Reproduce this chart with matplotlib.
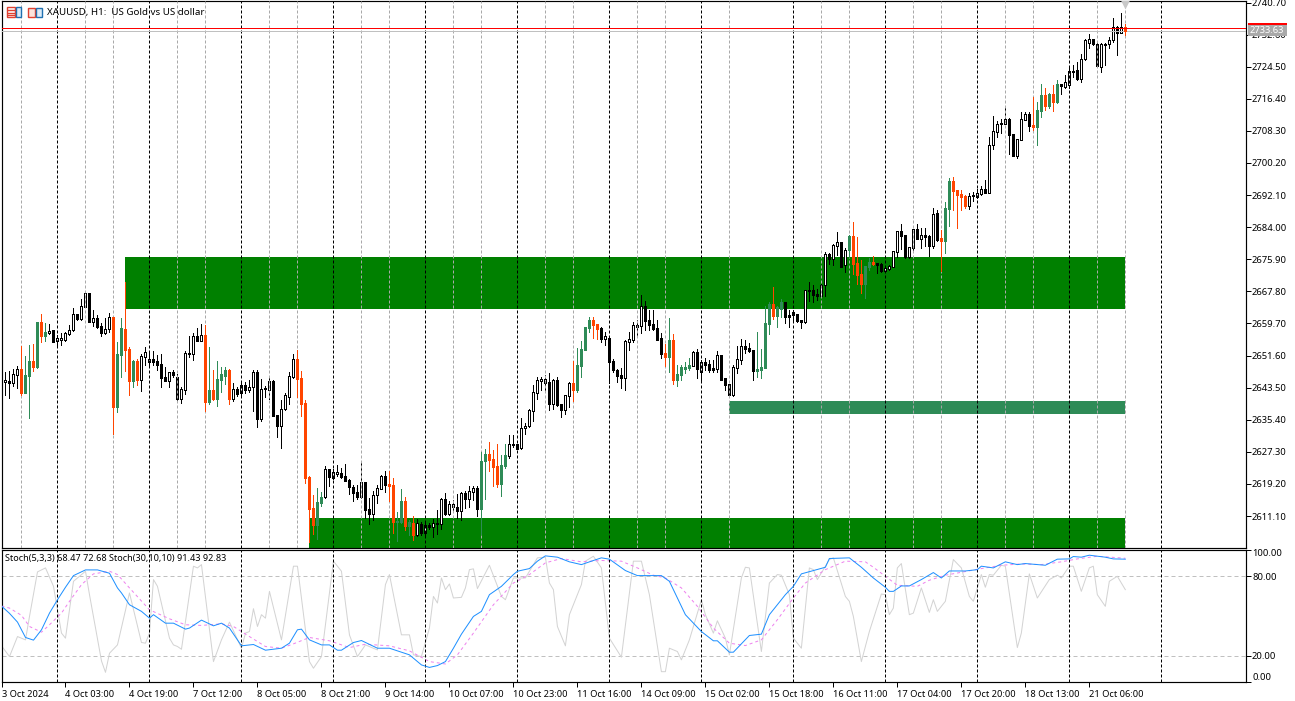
import numpy as np
import matplotlib
matplotlib.use('Agg')
import matplotlib.pyplot as plt
from matplotlib.patches import Rectangle

plt.rcParams['font.family'] = 'Noto Sans'

opens = [
    2656.0, 2645.0, 2645.2, 2644.8, 2646.8, 2648.1, 2642.2, 2646.5, 2650.2, 2648.7,
    2660.1, 2656.6, 2657.4, 2658.1, 2655.4, 2655.6, 2655.6, 2657.1, 2658.1, 2662.1,
    2660.9, 2663.9, 2667.3, 2660.2, 2661.0, 2659.0, 2657.3, 2658.2, 2661.3, 2638.6,
    2651.8, 2658.3, 2653.3, 2645.2, 2650.2, 2645.5, 2651.3, 2650.0, 2650.7, 2650.2,
    2649.5, 2646.2, 2645.2, 2647.5, 2646.2, 2640.7, 2642.9, 2652.0, 2652.0, 2656.5,
    2655.3, 2656.8, 2639.9, 2642.9, 2640.7, 2645.4, 2646.5, 2648.0, 2640.7, 2643.2,
    2642.2, 2644.2, 2642.9, 2643.6, 2647.5, 2635.6, 2643.1, 2642.9, 2645.2, 2636.6,
    2633.8, 2638.0, 2641.2, 2646.2, 2650.7, 2645.9, 2639.6, 2621.0, 2613.1, 2608.9,
    2614.4, 2615.8, 2622.9, 2620.6, 2621.8, 2622.0, 2621.2, 2620.2, 2618.4, 2617.2,
    2615.9, 2619.7, 2612.9, 2611.6, 2616.3, 2618.0, 2621.2, 2619.2, 2619.0, 2609.6,
    2609.6, 2614.9, 2608.6, 2609.4, 2606.3, 2609.1, 2606.8, 2608.8, 2608.4, 2609.2,
    2609.2, 2615.4, 2611.6, 2613.3, 2613.4, 2612.5, 2616.9, 2615.4, 2617.2, 2618.2,
    2612.9, 2625.0, 2626.8, 2625.5, 2623.8, 2619.2, 2623.8, 2626.3, 2629.0, 2629.3,
    2628.2, 2633.2, 2633.8, 2637.7, 2642.2, 2645.3, 2644.8, 2644.9, 2639.4, 2645.4,
    2639.4, 2637.9, 2641.4, 2644.7, 2642.9, 2649.0, 2653.0, 2658.6, 2660.6, 2659.6,
    2658.6, 2655.8, 2656.0, 2650.2, 2648.0, 2646.7, 2646.0, 2655.1, 2655.5, 2658.9,
    2659.1, 2664.1, 2660.6, 2659.6, 2658.6, 2656.1, 2652.2, 2651.2, 2655.5, 2645.5,
    2646.7, 2648.2, 2648.5, 2649.0, 2652.5, 2647.5, 2650.0, 2649.5, 2648.5, 2648.2,
    2651.8, 2646.0, 2644.4, 2641.7, 2648.5, 2650.5, 2654.0, 2653.5, 2653.0, 2647.7,
    2648.0, 2648.5, 2659.6, 2664.6, 2661.6, 2663.4, 2665.1, 2661.8, 2662.6, 2662.1,
    2660.6, 2660.1, 2667.9, 2668.2, 2667.2, 2666.6, 2669.3, 2677.2, 2676.0, 2679.3,
    2680.3, 2674.5, 2678.3, 2681.8, 2675.0, 2672.2, 2669.7, 2674.0, 2675.2, 2675.0,
    2674.7, 2673.0, 2673.5, 2674.0, 2677.8, 2683.0, 2682.0, 2676.5, 2678.8, 2683.5,
    2681.0, 2682.0, 2681.8, 2679.3, 2687.6, 2681.3, 2680.6, 2688.6, 2695.7, 2693.4,
    2692.4, 2691.9, 2689.4, 2691.8, 2691.6, 2692.4, 2693.6, 2692.7, 2704.7, 2708.0,
    2710.0, 2710.0, 2711.3, 2707.5, 2702.0, 2706.1, 2711.1, 2712.6, 2709.8, 2709.3,
    2713.3, 2717.4, 2714.6, 2717.6, 2715.6, 2720.1, 2719.4, 2720.0, 2723.2, 2723.7,
    2721.4, 2726.4, 2730.5, 2731.5, 2730.2, 2724.4, 2730.0, 2730.2, 2731.2, 2734.4,
    2733.1, 2734.5,
]
closes = [
    2645.3, 2645.4, 2644.8, 2647.0, 2648.1, 2642.2, 2646.7, 2650.2, 2648.7, 2660.1,
    2656.6, 2657.6, 2657.9, 2655.1, 2656.0, 2656.0, 2657.2, 2658.1, 2662.0, 2660.8,
    2664.0, 2667.3, 2660.1, 2661.0, 2658.8, 2657.3, 2658.3, 2661.3, 2638.6, 2652.0,
    2658.6, 2653.0, 2645.2, 2650.2, 2645.4, 2651.5, 2652.5, 2650.7, 2649.9, 2649.2,
    2645.9, 2645.2, 2647.5, 2646.7, 2640.7, 2643.2, 2652.3, 2652.3, 2656.5, 2655.3,
    2656.8, 2639.9, 2642.9, 2640.7, 2645.7, 2647.0, 2648.0, 2640.7, 2643.2, 2641.9,
    2644.2, 2642.9, 2643.7, 2647.5, 2635.6, 2643.1, 2643.3, 2645.2, 2636.4, 2633.8,
    2638.0, 2641.7, 2646.5, 2650.7, 2645.7, 2639.4, 2620.7, 2612.9, 2608.9, 2614.7,
    2615.9, 2623.0, 2621.0, 2622.1, 2622.2, 2621.0, 2620.0, 2618.4, 2616.9, 2615.9,
    2619.7, 2612.7, 2611.6, 2616.4, 2618.2, 2621.2, 2619.0, 2618.7, 2609.6, 2609.8,
    2614.9, 2608.6, 2609.6, 2606.3, 2609.3, 2606.8, 2608.8, 2608.4, 2609.3, 2609.4,
    2615.4, 2611.6, 2614.2, 2614.2, 2612.4, 2616.9, 2615.4, 2617.4, 2618.2, 2612.9,
    2625.0, 2626.8, 2625.3, 2623.5, 2619.2, 2624.0, 2626.5, 2629.3, 2629.3, 2628.0,
    2633.3, 2633.8, 2637.9, 2642.4, 2645.4, 2645.7, 2645.7, 2639.4, 2645.4, 2639.1,
    2637.9, 2641.6, 2644.7, 2642.9, 2649.2, 2653.3, 2658.8, 2660.6, 2659.3, 2658.3,
    2655.8, 2656.5, 2650.0, 2648.0, 2646.5, 2646.0, 2655.3, 2655.7, 2659.2, 2659.2,
    2664.0, 2660.3, 2659.3, 2658.4, 2655.5, 2652.0, 2651.2, 2655.5, 2645.5, 2647.0,
    2648.7, 2648.7, 2649.2, 2652.5, 2648.2, 2650.0, 2649.2, 2648.0, 2648.0, 2651.8,
    2645.5, 2644.2, 2641.7, 2648.7, 2650.8, 2654.0, 2653.3, 2652.8, 2647.7, 2648.2,
    2648.7, 2659.8, 2664.6, 2661.6, 2663.9, 2665.1, 2661.3, 2661.3, 2661.8, 2660.3,
    2660.1, 2668.2, 2668.2, 2666.9, 2666.6, 2669.4, 2677.2, 2676.0, 2679.5, 2680.3,
    2674.0, 2678.3, 2681.8, 2674.7, 2672.0, 2669.7, 2674.2, 2675.2, 2674.7, 2674.5,
    2673.0, 2673.6, 2674.1, 2677.9, 2683.0, 2681.8, 2676.5, 2679.0, 2683.5, 2681.0,
    2682.0, 2681.5, 2679.3, 2687.3, 2680.8, 2680.5, 2688.9, 2695.7, 2693.1, 2692.1,
    2691.6, 2689.4, 2691.9, 2692.1, 2692.6, 2693.6, 2692.6, 2704.7, 2708.3, 2710.0,
    2710.3, 2711.2, 2707.3, 2702.0, 2706.3, 2711.3, 2712.6, 2709.6, 2709.3, 2713.6,
    2717.4, 2714.6, 2717.6, 2715.6, 2720.1, 2719.6, 2720.6, 2723.4, 2723.4, 2721.4,
    2726.4, 2731.2, 2731.5, 2730.2, 2724.7, 2730.2, 2730.3, 2731.2, 2734.5, 2733.0,
    2734.5, 2733.6,
]
highs = [
    2656.0, 2647.5, 2647.7, 2648.1, 2649.0, 2653.9, 2651.5, 2654.3, 2654.5, 2660.1,
    2662.1, 2659.8, 2659.6, 2658.1, 2656.7, 2657.2, 2657.5, 2659.3, 2663.7, 2662.1,
    2665.9, 2667.3, 2667.5, 2663.1, 2661.8, 2659.9, 2661.0, 2662.4, 2661.3, 2655.0,
    2661.1, 2670.2, 2653.7, 2650.5, 2650.7, 2652.0, 2653.8, 2652.5, 2652.8, 2651.8,
    2652.0, 2648.7, 2647.5, 2648.0, 2647.0, 2643.7, 2652.8, 2656.5, 2657.3, 2658.6,
    2659.6, 2659.3, 2653.8, 2648.0, 2650.2, 2648.7, 2648.7, 2648.2, 2644.7, 2643.7,
    2644.7, 2644.9, 2645.4, 2648.0, 2648.0, 2645.7, 2643.9, 2645.9, 2645.4, 2636.6,
    2640.4, 2642.2, 2647.5, 2652.0, 2653.0, 2647.7, 2640.4, 2621.2, 2616.4, 2618.2,
    2617.2, 2623.8, 2623.0, 2623.0, 2624.0, 2623.2, 2624.2, 2620.5, 2619.0, 2619.0,
    2624.4, 2619.7, 2615.6, 2617.4, 2619.0, 2621.5, 2622.5, 2622.5, 2620.7, 2612.1,
    2617.9, 2615.9, 2610.1, 2611.1, 2610.4, 2609.6, 2609.6, 2609.3, 2610.4, 2612.6,
    2615.6, 2616.9, 2614.9, 2615.2, 2616.7, 2617.2, 2617.4, 2618.7, 2618.7, 2618.7,
    2627.3, 2628.0, 2629.8, 2627.8, 2629.3, 2626.5, 2629.3, 2631.6, 2631.6, 2629.3,
    2635.9, 2634.6, 2638.1, 2644.2, 2646.2, 2646.2, 2646.7, 2647.2, 2645.7, 2646.2,
    2639.4, 2641.7, 2644.9, 2650.2, 2653.5, 2655.3, 2658.8, 2661.3, 2661.3, 2659.6,
    2658.8, 2657.6, 2656.0, 2650.7, 2648.2, 2648.4, 2655.5, 2657.6, 2660.2, 2660.6,
    2666.9, 2665.4, 2663.1, 2663.1, 2660.6, 2657.2, 2654.5, 2661.1, 2657.1, 2649.2,
    2649.2, 2650.0, 2651.0, 2652.8, 2653.3, 2650.5, 2651.0, 2650.5, 2650.5, 2652.8,
    2651.8, 2646.0, 2644.4, 2649.2, 2654.0, 2655.8, 2655.5, 2654.7, 2653.0, 2657.6,
    2653.3, 2664.1, 2665.1, 2668.9, 2664.1, 2665.9, 2665.1, 2663.1, 2663.1, 2662.1,
    2660.6, 2668.2, 2670.2, 2669.4, 2668.4, 2669.7, 2677.7, 2677.5, 2679.8, 2682.8,
    2680.3, 2678.8, 2682.0, 2685.3, 2681.5, 2675.7, 2674.2, 2676.2, 2676.7, 2675.0,
    2675.0, 2673.7, 2674.5, 2678.0, 2683.0, 2684.8, 2682.0, 2679.0, 2683.5, 2684.8,
    2683.8, 2683.8, 2682.0, 2688.9, 2688.4, 2683.3, 2690.4, 2696.4, 2696.7, 2693.4,
    2693.4, 2692.1, 2692.6, 2692.9, 2693.6, 2694.4, 2695.9, 2706.8, 2712.1, 2710.8,
    2711.3, 2714.1, 2711.6, 2707.5, 2706.3, 2713.1, 2713.1, 2713.1, 2716.9, 2715.6,
    2720.1, 2719.1, 2717.9, 2719.9, 2721.1, 2720.1, 2722.4, 2724.7, 2724.9, 2725.7,
    2727.7, 2731.5, 2732.7, 2731.5, 2730.5, 2730.5, 2730.5, 2732.0, 2736.8, 2734.8,
    2738.0, 2735.3,
]
lows = [
    2645.3, 2641.7, 2641.0, 2643.9, 2643.3, 2641.7, 2642.1, 2635.9, 2647.7, 2648.5,
    2655.1, 2655.3, 2657.0, 2655.1, 2654.3, 2654.3, 2655.4, 2656.8, 2657.9, 2660.6,
    2660.6, 2663.9, 2660.0, 2659.1, 2658.6, 2656.6, 2657.0, 2657.5, 2631.8, 2637.4,
    2646.2, 2647.7, 2641.7, 2643.6, 2644.2, 2642.7, 2649.2, 2649.2, 2649.2, 2648.0,
    2643.7, 2645.2, 2643.7, 2646.1, 2640.2, 2639.7, 2641.9, 2651.2, 2650.5, 2655.2,
    2655.3, 2637.6, 2639.4, 2640.4, 2638.9, 2642.4, 2644.4, 2639.4, 2640.2, 2641.4,
    2641.4, 2642.2, 2642.4, 2637.6, 2633.6, 2635.1, 2641.2, 2640.7, 2636.4, 2631.1,
    2628.3, 2637.9, 2639.4, 2645.9, 2641.2, 2636.4, 2619.5, 2604.6, 2606.6, 2605.3,
    2613.6, 2615.7, 2618.7, 2620.5, 2621.2, 2620.7, 2620.0, 2616.7, 2614.9, 2615.4,
    2615.6, 2610.6, 2609.1, 2610.1, 2614.4, 2617.9, 2617.2, 2614.9, 2606.8, 2604.9,
    2609.3, 2607.6, 2606.3, 2605.1, 2606.1, 2606.3, 2606.3, 2607.9, 2605.8, 2606.6,
    2607.9, 2611.4, 2611.4, 2612.6, 2610.6, 2610.1, 2613.1, 2613.4, 2615.2, 2611.1,
    2606.6, 2615.4, 2622.5, 2618.7, 2618.4, 2616.2, 2623.2, 2625.8, 2628.5, 2628.0,
    2628.0, 2631.8, 2633.7, 2635.1, 2640.7, 2642.9, 2642.9, 2637.9, 2638.1, 2638.9,
    2636.1, 2636.9, 2638.6, 2640.2, 2642.4, 2646.2, 2653.0, 2657.6, 2656.0, 2655.8,
    2655.0, 2654.3, 2644.7, 2647.5, 2644.9, 2643.4, 2642.9, 2653.0, 2655.1, 2656.8,
    2657.3, 2658.1, 2658.1, 2658.1, 2655.5, 2650.9, 2649.0, 2647.5, 2644.4, 2643.9,
    2645.5, 2647.2, 2648.0, 2649.0, 2646.0, 2645.5, 2648.0, 2647.5, 2647.5, 2647.5,
    2645.5, 2642.9, 2641.4, 2641.4, 2647.1, 2649.5, 2652.2, 2652.5, 2645.5, 2646.3,
    2646.0, 2648.5, 2657.1, 2660.8, 2658.8, 2661.3, 2659.8, 2658.8, 2660.6, 2660.1,
    2658.6, 2659.8, 2665.4, 2665.1, 2665.6, 2666.6, 2666.6, 2674.7, 2674.5, 2677.0,
    2674.0, 2672.7, 2676.5, 2672.2, 2669.7, 2667.4, 2666.1, 2673.2, 2674.5, 2672.5,
    2672.7, 2672.9, 2673.2, 2674.0, 2676.5, 2678.5, 2676.2, 2676.2, 2677.7, 2681.0,
    2678.8, 2679.3, 2676.8, 2678.8, 2680.5, 2673.0, 2677.5, 2684.3, 2688.4, 2683.8,
    2688.4, 2688.9, 2688.6, 2690.6, 2691.4, 2692.2, 2692.6, 2692.6, 2703.7, 2706.8,
    2707.7, 2710.0, 2702.5, 2702.0, 2701.5, 2706.0, 2711.1, 2708.3, 2708.5, 2704.7,
    2711.8, 2713.6, 2714.1, 2713.3, 2715.3, 2717.6, 2719.1, 2719.1, 2721.9, 2721.2,
    2720.6, 2726.2, 2729.2, 2730.0, 2724.4, 2723.2, 2724.9, 2729.2, 2730.7, 2727.4,
    2732.9, 2732.5,
]
# w = plain up bar, k = plain down bar, g / o = recoloured bars
bar_kinds = ('kwkwwoggog' 'ogwkwwwwwk' 'wwkwkkwwog' 'googowwwkk' 'kkwkkwwwwk'
             'wogogggowk' 'wkwwkwwwkk' 'wwwwooooog' 'gwkwwkkkkk' 'wkkwwwkoog'
             'gogowkwkww' 'wkwwkwkwwk' 'ggoooggwwk' 'wwwwwwwkwk' 'kwwoggggoo'
             'kwkkkkwwww' 'wkkkkkogog' 'gggwkwkkkw' 'kkkwwwkkkg' 'gggoggkkkk'
             'kwwkkwwkww' 'kwgoooggok' 'kwwwwkkwwk' 'wkkwkoggoo' 'oowwwwkwww'
             'wwkkwwwkog' 'gogogkwwwk' 'wwwkkwwwwk' 'wo')

# zones: start bar, lower price, upper price
zone_starts = [31, 77, 182]
zone_lows = [2663.36, 2600.0, 2636.86]
zone_highs = [2676.48, 2610.62, 2640.15]
zone_colors = ['#008000', '#008000', '#2E8B57']
zone_end = 281

line_price = 2734.2
bid_price = 2733.63

black_grid_bars = [14, 37, 60, 83, 106, 129, 152, 175, 198, 221, 244, 267, 290]
grey_grid_bars = [5, 21, 28, 44, 51, 67, 74, 90, 97, 113, 120, 136, 143, 159, 166,
                  182, 205, 212, 228, 235, 251, 258, 274, 281]

price_ticks = [2740.70, 2732.60, 2724.50, 2716.40, 2708.30, 2700.20, 2692.10, 2684.00,
               2675.90, 2667.80, 2659.70, 2651.60, 2643.50, 2635.40, 2627.30, 2619.20, 2611.10]
time_ticks = list(range(0, 273, 16))
time_labels = ['3 Oct 2024', '4 Oct 03:00', '4 Oct 19:00', '7 Oct 12:00', '8 Oct 05:00',
               '8 Oct 21:00', '9 Oct 14:00', '10 Oct 07:00', '10 Oct 23:00', '11 Oct 16:00',
               '14 Oct 09:00', '15 Oct 02:00', '15 Oct 18:00', '16 Oct 11:00', '17 Oct 04:00',
               '17 Oct 20:00', '18 Oct 13:00', '21 Oct 06:00']

# stochastic lines, read vertex by vertex
blue_bars = [0, 2, 4, 6, 8, 10, 12, 14, 16, 18, 21, 24, 27, 29, 30, 32, 35, 37, 38, 41, 43, 46, 47, 50,
             53, 55, 57, 60, 63, 66, 70, 72, 74, 75, 77, 80, 82, 84, 85, 88, 90, 94, 97, 102, 105, 107,
             109, 111, 113, 115, 118, 120, 122, 125, 128, 129, 132, 134, 136, 139, 142, 145, 148, 150,
             152, 156, 159, 165, 167, 169, 171, 175, 178, 179, 182, 183, 187, 190, 192, 196, 198, 200,
             203, 206, 207, 212, 215, 218, 221, 222, 223, 225, 227, 230, 233, 235, 237, 241, 244, 245,
             248, 251, 254, 256, 261, 264, 267, 268, 270, 272, 276, 278, 281]
blue_vals = [57.3, 51.8, 45.2, 33.6, 31.6, 39.4, 52.0, 62.1, 71.5, 80.3, 84.6, 84.6, 82.1, 71.0, 67.2, 58.3,
             53.3, 48.2, 50.8, 44.4, 44.4, 39.9, 40.7, 46.7, 42.4, 44.4, 40.7, 27.3, 28.3, 24.0, 25.5, 29.3,
             39.4, 39.9, 31.8, 28.0, 28.0, 24.0, 24.0, 29.8, 31.3, 25.5, 25.5, 20.5, 12.9, 11.0,
             12.4, 15.4, 25.5, 36.1, 49.5, 53.3, 65.9, 72.2, 81.1, 83.6, 85.6, 91.2, 95.2, 94.2, 90.7,
             88.6, 91.7, 93.7, 92.7, 84.1, 80.3, 80.3, 76.0, 63.4, 50.8, 38.1, 31.1, 31.1, 22.5, 22.5, 35.1,
             36.1, 50.8, 65.9, 72.2, 81.6, 84.1, 86.6, 93.2, 93.7, 86.6, 78.5, 71.5, 68.4, 68.4, 72.5, 72.5,
             77.3, 82.6, 78.5, 83.8, 83.8, 84.8, 87.4, 86.1, 90.7, 88.6, 89.4, 88.1, 92.7, 92.9, 94.7, 94.2,
             95.7, 94.2, 92.9, 92.7]
signal_bars = [0, 2, 5, 7, 10, 12, 15, 17, 20, 23, 27, 29, 32, 37, 42, 46, 50, 55, 58, 62, 66, 70, 73, 77,
               82, 87, 91, 97, 102, 107, 111, 114, 118, 123, 128, 132, 136, 140, 145, 150, 155, 159, 163,
               166, 170, 174, 178, 182, 186, 190, 194, 198, 201, 206, 211, 216, 218, 221, 224, 229, 232,
               236, 240, 245, 250, 255, 260, 265, 269, 274, 281]
signal_vals = [57.3, 55.8, 50.3, 41.9, 37.6, 43.2, 52.0, 60.9, 73.5, 81.6, 83.6, 81.1, 71.0, 54.5, 47.7, 43.2,
               42.7, 43.9, 41.9, 34.3, 26.8, 25.5, 28.8, 33.6, 31.1, 26.0, 28.5, 27.3, 23.5, 15.4, 13.6, 20.5,
               36.9, 58.3, 74.7, 81.1, 89.9, 93.2, 90.7, 91.7, 91.2, 86.1, 80.6, 78.5, 71.0, 57.1, 40.7, 29.3,
               27.5, 31.8, 47.0, 63.4, 74.7, 84.8, 91.2, 90.7, 86.6, 79.8, 73.0, 72.2, 76.8, 80.6, 82.8, 85.6,
               88.1, 89.1, 88.6, 90.7, 92.9, 94.9, 93.4]
fast_bars = [0, 2, 4, 6, 7, 9, 11, 13, 15, 16, 18, 21, 22, 25, 26, 27, 29, 32, 35, 36, 37, 38, 39, 42, 43, 44,
             45, 48, 49, 50, 53, 55, 57, 60, 61, 62, 63, 64, 65, 66, 67, 70, 73, 74, 77, 78, 80, 83, 85, 87,
             89, 91, 94, 96, 97, 100, 102, 103, 105, 107, 108, 109, 110, 111, 112, 113, 115, 116, 117, 118,
             119, 122, 125, 126, 128, 131, 134, 136, 137, 138, 139, 141, 142, 145, 146, 148, 150, 152, 155,
             158, 160, 162, 165, 166, 167, 169, 170, 172, 175, 176, 178, 179, 181, 182, 185, 186, 187, 190,
             192, 194, 195, 197, 198, 200, 202, 203, 204, 207, 208, 211, 212, 213, 215, 217, 220, 221, 222,
             223, 224, 225, 227, 228, 230, 232, 233, 234, 236, 238, 240, 242, 243, 245, 246, 247, 248, 250,
             251, 254, 255, 257, 259, 262, 264, 265, 267, 268, 270, 272, 273, 274, 276, 277, 279, 281]
fast_vals = [27.3, 19.2, 34.3, 31.8, 49.5, 83.1, 86.1, 72.2, 36.9, 33.1, 76.0, 83.6, 65.9, 15.9, 7.3, 21.7, 28.0,
             67.2, 29.8, 29.3, 36.9, 77.3, 72.2, 33.1, 28.0, 26.8, 24.7, 87.4, 86.1, 88.6, 15.4, 31.8, 45.2, 25.5,
             36.9, 38.1, 55.3, 41.9, 50.8, 48.2, 68.4, 31.8, 87.4, 87.4, 15.4, 10.4, 19.2, 91.2, 83.6, 35.6, 19.2,
             28.0, 24.2, 73.5, 81.1, 35.6, 35.6, 20.5, 19.2, 40.7, 64.6, 59.6, 78.5, 69.7, 74.0, 63.4, 63.9, 71.0,
             84.8, 85.4, 70.5, 88.1, 64.6, 62.1, 78.5, 78.5, 93.7, 94.2, 74.7, 69.7, 41.9, 27.3, 50.8, 73.5, 91.2,
             94.9, 86.1, 33.1, 18.7, 91.2, 91.2, 65.9, 7.8, 7.8, 25.5, 23.0, 16.7, 31.8, 62.1, 50.8, 36.9, 46.2,
             33.1, 20.5, 78.5, 86.6, 86.1, 23.0, 74.7, 81.1, 80.6, 65.9, 33.1, 25.5, 86.1, 84.8, 77.3, 92.4, 93.7,
             64.6, 60.9, 49.5, 15.4, 38.1, 66.4, 65.9, 50.8, 55.8, 86.1, 89.4, 50.8, 52.0, 71.0, 52.5, 62.1, 53.3,
             60.9, 92.4, 86.1, 64.6, 60.9, 81.1, 71.5, 81.1, 80.6, 88.1, 87.4, 26.0, 36.9, 81.6, 63.4, 77.3, 80.6,
             78.5, 87.4, 87.4, 68.4, 86.1, 87.4, 65.9, 57.1, 76.0, 79.8, 69.7]
stoch_ticks = [0, 20, 80, 100]

W, H = 1295, 701
DPI = 100
LEFT, RIGHT = 1.5, 1245.5
px = 0.72  # one screen pixel in points


def fx(x):
    return x / W


def fy(y):
    return 1 - y / H


fig = plt.figure(figsize=(W / DPI, H / DPI), dpi=DPI, facecolor='white')
ax = fig.add_axes([fx(LEFT), fy(547.5), (RIGHT - LEFT) / W, (547.5 - 1) / H])
ax2 = fig.add_axes([fx(LEFT), fy(682), (RIGHT - LEFT) / W, (682 - 549.5) / H])

# one bar every 4 pixels, bar 0 sits at x = 1.3
xlim = ((LEFT - 1.3) / 4, (RIGHT - 1.3) / 4)
for a in (ax, ax2):
    a.set_xlim(xlim)
    for s in a.spines.values():
        s.set_linewidth(0.85)

ax.set_ylim(2603.17, 2741.08)
ax2.set_ylim(0, 100)

x = np.arange(len(opens))
o, c, h, l = map(np.array, (opens, closes, highs, lows))
kinds = np.array(list(bar_kinds))

for start, lo, hi, col in zip(zone_starts, zone_lows, zone_highs, zone_colors):
    ax.add_patch(Rectangle((start, lo), zone_end - start, hi - lo, facecolor=col,
                           edgecolor='none', zorder=1))

kind_style = {'w': ('white', 'black', 2), 'k': ('black', 'black', 2),
              'g': ('#2E8B57', '#2E8B57', 5), 'o': ('#FF4500', '#FF4500', 5)}
for kind, (face, edge, z) in kind_style.items():
    m = kinds == kind
    ax.vlines(x[m], l[m], h[m], color=edge, lw=px, zorder=z, antialiased=False)
    ax.bar(x[m], np.abs(c[m] - o[m]), bottom=np.minimum(o[m], c[m]), width=0.5,
           facecolor=face, edgecolor=edge, linewidth=px, zorder=z + 0.1, antialiased=False)

for a in (ax, ax2):
    for b in black_grid_bars:
        a.axvline(b, color='black', lw=px, ls=(0, (3, 2)), zorder=4)
for b in grey_grid_bars:
    ax.axvline(b, color='#A9A9A9', lw=px, ls=(0, (3, 2)), zorder=4)

ax.axhline(bid_price, color='#C0C0C0', lw=px, zorder=4)
ax.axhline(line_price, color='red', lw=px, zorder=6)
ax.plot([zone_end], [2740.2], marker='v', ms=7, color='#C8C8C8', mec='none', zorder=6)

ax.set_xticks([])
ax.yaxis.tick_right()
ax.set_yticks(price_ticks)
ax.set_yticklabels([f'{p:.2f}' for p in price_ticks])
ax.tick_params(axis='y', length=3.5, width=px, pad=1.2, labelsize=6.8)

ax2.axhline(80, color='#C0C0C0', lw=px, ls=(0, (4, 3)), zorder=1)
ax2.axhline(20, color='#C0C0C0', lw=px, ls=(0, (4, 3)), zorder=1)
ax2.plot(fast_bars, fast_vals, color='#D3D3D3', lw=px, zorder=2)
ax2.plot(signal_bars, signal_vals, color='#EE82EE', lw=px, ls=(0, (3, 3)), zorder=3)
ax2.plot(blue_bars, blue_vals, color='#1E90FF', lw=px, zorder=5)

ax2.yaxis.tick_right()
ax2.set_yticks(stoch_ticks)
ax2.set_yticklabels([f'{v:.2f}' for v in stoch_ticks])
ax2.tick_params(axis='y', length=3.5, width=px, pad=1.2, labelsize=6.8)
ax2.get_yticklabels()[0].set_verticalalignment('bottom')
ax2.get_yticklabels()[-1].set_verticalalignment('top')

ax2.set_xticks(time_ticks)
ax2.set_xticklabels(time_labels, ha='left')
ax2.tick_params(axis='x', length=3.5, width=px, pad=2, labelsize=6.7)

# price tag for the bid line
fig.add_artist(Rectangle((fx(1248), fy(36)), 39 / W, 12 / H, transform=fig.transFigure,
                         facecolor='#A9A9A9', edgecolor='none', zorder=10))
fig.add_artist(Rectangle((fx(1248), fy(25)), 39 / W, 2 / H, transform=fig.transFigure,
                         facecolor='red', edgecolor='none', zorder=11))
fig.text(fx(1250), fy(30.5), f'{bid_price:.2f}', color='white', fontsize=6.8, va='center', zorder=12)

fig.text(fx(47), fy(12.5), 'XAUUSD, H1:  US Gold vs US dollar', fontsize=7.0, va='center', zorder=12)
fig.text(fx(5), fy(558.5), 'Stoch(5,3,3) 68.47 72.68 Stoch(30,10,10) 91.43 92.83', fontsize=6.55,
         va='center', zorder=12)


# the two small toolbar icons in the top left corner
def icon_box(x0, y0, w, h_, face, edge):
    fig.add_artist(Rectangle((fx(x0), fy(y0 + h_)), w / W, h_ / H, transform=fig.transFigure,
                             facecolor=face, edgecolor=edge, linewidth=1.0, zorder=12))


icon_box(6.5, 7.5, 8, 9, 'white', '#E04030')
icon_box(15.5, 7.5, 5, 9, '#DCEBF7', '#2070B0')
for yy in (10, 12.5, 15):
    fig.add_artist(plt.Line2D([fx(8), fx(14)], [fy(yy), fy(yy)], transform=fig.transFigure,
                              color='#E04030', lw=1.0, zorder=13))
icon_box(27.5, 8.5, 7, 8, '#FBE3DC', '#E04030')
icon_box(35.5, 8.5, 6, 8, '#DCEBF7', '#2070B0')

fig.savefig('out.png', dpi=DPI, facecolor='white')
